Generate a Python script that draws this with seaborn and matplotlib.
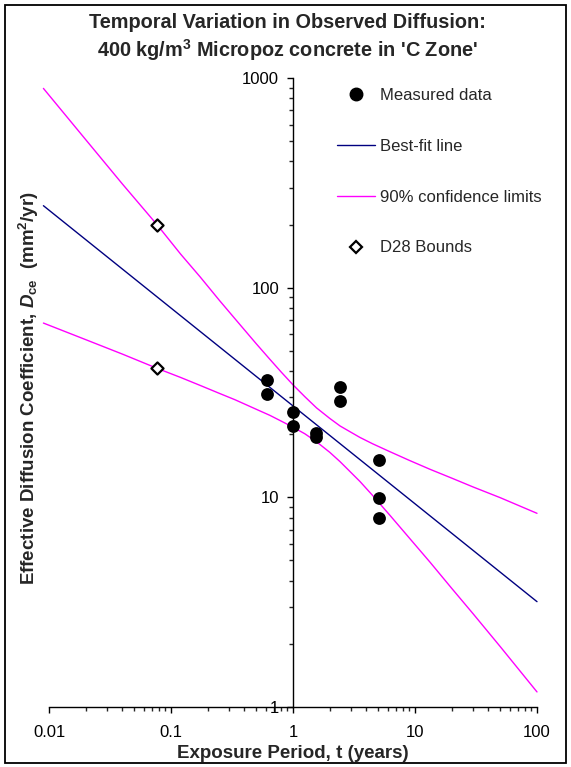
import matplotlib
matplotlib.use("Agg")
import matplotlib.pyplot as plt
from matplotlib.lines import Line2D
from matplotlib.patches import Rectangle
from matplotlib.ticker import FixedLocator, FixedFormatter, LogLocator, NullFormatter
import seaborn as sns

# measured diffusion coefficients (exposure period in years, Dce in mm2/yr)
meas_t = [0.61, 0.61, 1.0, 1.0, 1.54, 1.54, 2.44, 2.44, 5.07, 5.07, 5.07]
meas_d = [36.3, 31.1, 25.6, 21.9, 20.2, 19.3, 33.7, 28.7, 15.1, 9.9, 7.94]

# D28 bounds
d28_t = [0.0772, 0.0772]
d28_d = [198.8, 41.2]

# best-fit line end points
fit_t = [0.009, 100]
fit_d = [246, 3.18]

# 90% confidence limits
conf_t = [0.009, 0.02, 0.04, 0.0772, 0.12, 0.173, 0.25, 0.335, 0.5, 0.647, 0.8, 1.0,
          1.25, 1.56, 2.0, 2.43, 3.0, 3.54, 4.5, 6.24, 9, 13.3, 20, 30, 50, 100]
upper_d = [892, 508, 312, 199, 144.5, 112.7, 86.8, 71.0, 54.0, 45.5, 39.6, 34.4,
           30.2, 26.7, 23.8, 21.9, 20.4, 19.3, 18.0, 16.5, 15.0, 13.6, 12.35, 11.2, 9.96, 8.39]
lower_d = [67.8, 56.5, 48.2, 41.2, 37.3, 34.2, 31.3, 29.2, 26.3, 24.6, 23.1, 21.6,
           20.1, 18.4, 16.4, 14.8, 13.1, 11.9, 10.2, 8.2, 6.39, 4.9, 3.68, 2.78, 1.94, 1.18]

x_ticks = [0.01, 0.1, 1, 10, 100]
x_labels = ["0.01", "0.1", "1", "10", "100"]
y_ticks = [1, 10, 100, 1000]
y_labels = ["1", "10", "100", "1000"]

sns.set_style("ticks")
plt.rcParams["font.family"] = ["Liberation Sans", "DejaVu Sans"]
plt.rcParams["mathtext.fontset"] = "custom"
plt.rcParams["mathtext.rm"] = "Liberation Sans:bold"
plt.rcParams["mathtext.bf"] = "Liberation Sans:bold"
plt.rcParams["mathtext.it"] = "Liberation Sans:italic:bold"

W, H = 571, 767
fig = plt.figure(figsize=(W / 100, H / 100), dpi=100)
ax = fig.add_axes([49 / W, 60 / H, (537 - 49) / W, (707 - 78) / H])

navy = "#000080"
pink = "#FF00FF"

sns.lineplot(x=conf_t, y=upper_d, ax=ax, color=pink, lw=1, clip_on=False)
sns.lineplot(x=conf_t, y=lower_d, ax=ax, color=pink, lw=1, clip_on=False)
sns.lineplot(x=fit_t, y=fit_d, ax=ax, color=navy, lw=1, clip_on=False)
sns.scatterplot(x=meas_t, y=meas_d, ax=ax, color="black", s=85, edgecolor="black",
                linewidth=0, zorder=5)
sns.scatterplot(x=d28_t, y=d28_d, ax=ax, marker="D", s=38, facecolor="white",
                edgecolor="black", linewidth=1.6, zorder=6)

ax.set_xscale("log")
ax.set_yscale("log")
ax.set_xlim(0.01, 100)
ax.set_ylim(1, 1000)

ax.xaxis.set_major_locator(FixedLocator(x_ticks))
ax.xaxis.set_major_formatter(FixedFormatter(x_labels))
ax.yaxis.set_major_locator(FixedLocator(y_ticks))
ax.yaxis.set_major_formatter(FixedFormatter(y_labels))
for axis in (ax.xaxis, ax.yaxis):
    axis.set_minor_locator(LogLocator(base=10, subs=range(2, 10)))
    axis.set_minor_formatter(NullFormatter())

ax.spines["top"].set_visible(False)
ax.spines["right"].set_visible(False)
ax.spines["left"].set_position(("data", 1))
for s in ("left", "bottom"):
    ax.spines[s].set_linewidth(1)
    ax.spines[s].set_color("black")

ax.tick_params(axis="both", which="major", direction="out", length=4, width=1,
               labelsize=12, colors="black")
ax.tick_params(axis="both", which="minor", direction="out", length=3, width=1)
ax.tick_params(axis="x", which="major", pad=9)
ax.tick_params(axis="y", which="major", pad=6)
ax.set_xlabel("")
ax.set_ylabel("")

handles = [
    Line2D([], [], marker="o", ls="none", color="black", markersize=9),
    Line2D([], [], color=navy, lw=1),
    Line2D([], [], color=pink, lw=1),
    Line2D([], [], marker="D", ls="none", mfc="white", mec="black", mew=1.6, markersize=6),
]
labels = ["Measured data", "Best-fit line", "90% confidence limits", "D28 Bounds"]
fig.legend(handles, labels, loc="upper left", bbox_to_anchor=(337 / W, 1 - 88 / H),
           frameon=False, fontsize=12, handlelength=2.3, handletextpad=0.3,
           labelspacing=2.15, borderaxespad=0, borderpad=0)

fig.text(287 / W, 1 - 23 / H, "Temporal Variation in Observed Diffusion:",
         ha="center", va="center", fontsize=14.3, fontweight="bold")
fig.text(287 / W, 1 - 50 / H, "400 kg/m$^{3}$ Micropoz concrete in 'C Zone'",
         ha="center", va="center", fontsize=14.3, fontweight="bold")
fig.text(293 / W, 1 - 753 / H, "Exposure Period, t (years)",
         ha="center", va="center", fontsize=13.5, fontweight="bold")
fig.text(29 / W, 1 - 388 / H,
         "Effective Diffusion Coefficient, $D_{\\rm ce}$  (mm$^{2}$/yr)",
         ha="center", va="center", rotation=90, fontsize=13.5, fontweight="bold")

fig.patches.append(Rectangle((5 / W, 4 / H), 561 / W, 758 / H, transform=fig.transFigure,
                             fill=False, edgecolor="black", lw=1.3))

fig.savefig("out.png", dpi=100)
